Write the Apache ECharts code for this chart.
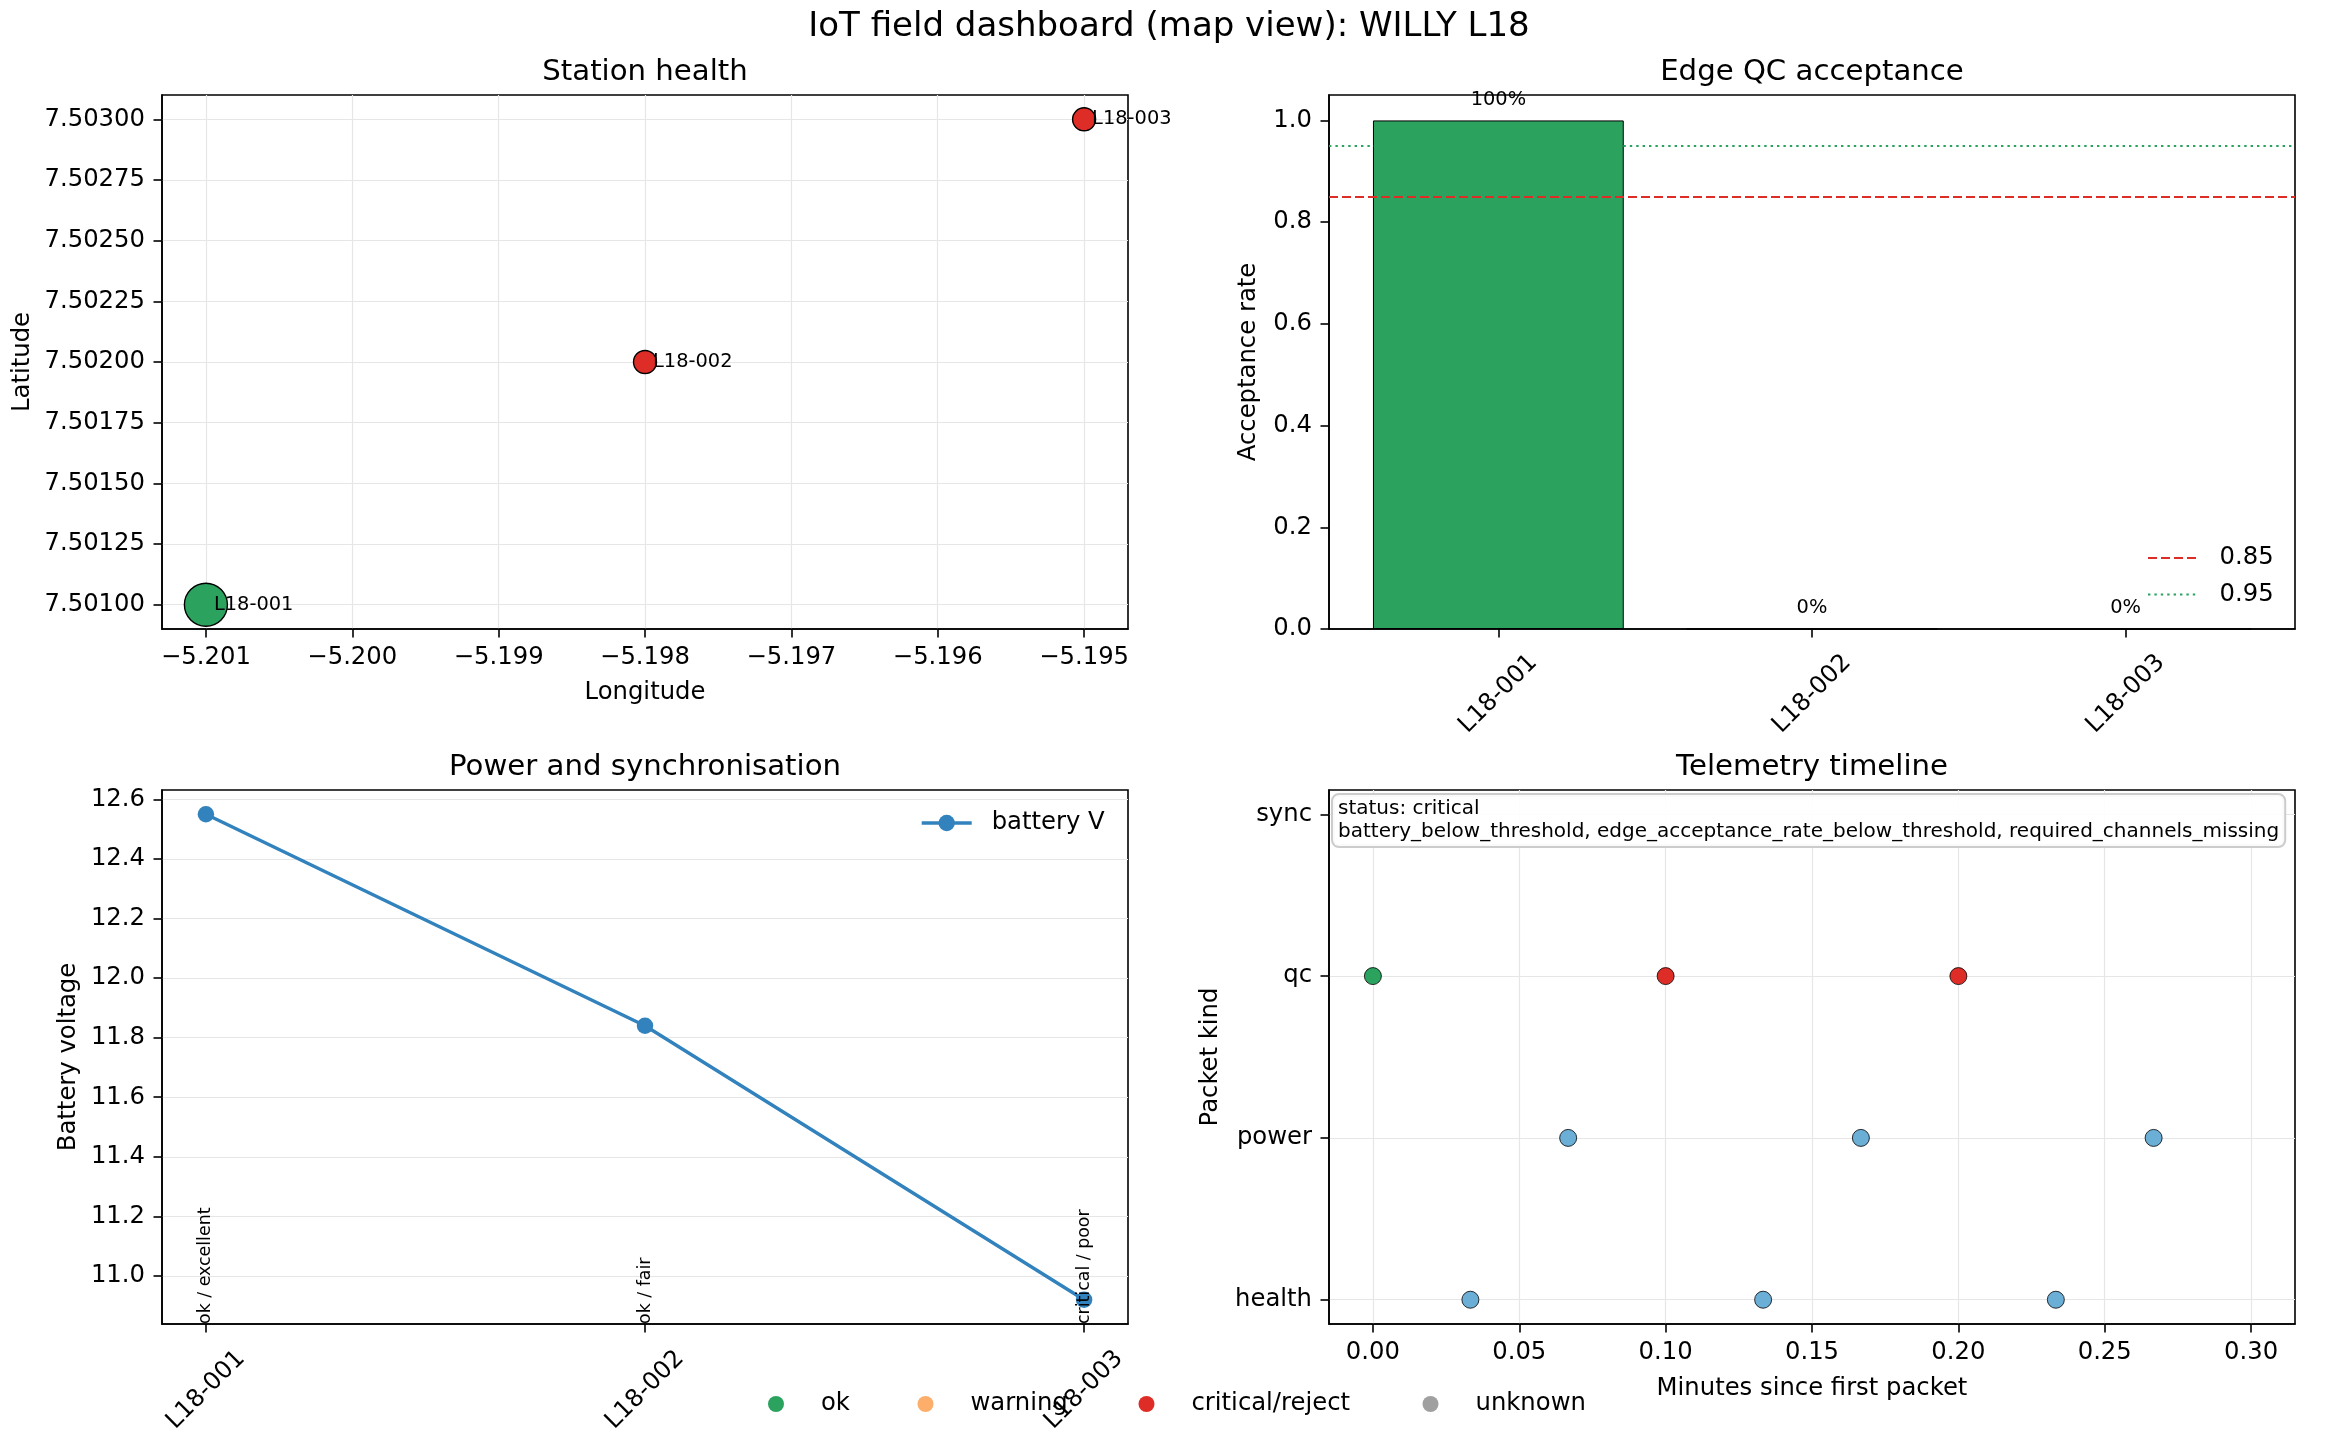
<!DOCTYPE html>
<html>
<head>
<meta charset="utf-8">
<script src="https://cdn.jsdelivr.net/npm/echarts@6/dist/echarts.min.js"></script>
<style>
html,body{margin:0;padding:0;background:#fff;}
#chart{width:2340px;height:1440px;}
</style>
</head>
<body>
<div id="chart"></div>
<script>
// ---------------- data ----------------
const figureTitle = 'IoT field dashboard (map view): WILLY L18';
const panelTitles = ['Station health', 'Edge QC acceptance', 'Power and synchronisation', 'Telemetry timeline'];

const stations = ['L18-001', 'L18-002', 'L18-003'];
const longitudes = [-5.201, -5.198, -5.195];
const latitudes = [7.501, 7.502, 7.503];
const healthStatus = ['ok', 'critical', 'critical'];
const acceptanceRate = [1.0, 0.0, 0.0];
const acceptThresholds = [0.85, 0.95];
const batteryVoltage = [12.55, 11.84, 10.92];
const powerStatus = ['ok', 'ok', 'critical'];
const syncQuality = ['excellent', 'fair', 'poor'];

const packetMinutes = [0.0, 0.0333, 0.0667, 0.1, 0.1333, 0.1667, 0.2, 0.2333, 0.2667];
const packetKinds = ['qc', 'health', 'power', 'qc', 'health', 'power', 'qc', 'health', 'power'];
const packetQc = ['accept', null, null, 'reject', null, null, 'reject', null, null];
const kindOrder = ['health', 'power', 'qc', 'sync'];

const stationStatus = 'critical';
const statusFlags = ['battery_below_threshold', 'edge_acceptance_rate_below_threshold', 'required_channels_missing'];
const legendStatuses = ['ok', 'warning', 'critical/reject', 'unknown'];

// tick labels
const lonTicks = [-5.201, -5.200, -5.199, -5.198, -5.197, -5.196, -5.195];
const latTicks = [7.501, 7.50125, 7.5015, 7.50175, 7.502, 7.50225, 7.5025, 7.50275, 7.503];
const rateTicks = [0.0, 0.2, 0.4, 0.6, 0.8, 1.0];
const voltTicks = [11.0, 11.2, 11.4, 11.6, 11.8, 12.0, 12.2, 12.4, 12.6];
const minuteTicks = [0.0, 0.05, 0.10, 0.15, 0.20, 0.25, 0.30];
const stationTicks = [0, 1, 2];
const kindTicks = [0, 1, 2, 3];

// axis limits (matplotlib-style 5% margins)
const lonLim = [-5.2013, -5.1947];
const latLim = [7.5009, 7.5031];
const rateLim = [0, 1.05];
const barIdxLim = [-0.54, 2.54];
const lineIdxLim = [-0.1, 2.1];
const voltLim = [10.8385, 12.6315];
const minuteLim = [-0.015, 0.315];
const kindLim = [-0.15, 3.15];

// ---------------- styles ----------------
const FF = 'DejaVu Sans';
const F14 = 34, F12 = 29.2, F10 = 24.3, F8 = 19.4, F7 = 17.4;
const C = {
  ok: '#2ca25f', warning: '#fdae6b', critical: '#de2d26', 'critical/reject': '#de2d26',
  unknown: '#a0a0a0', accept: '#2ca25f', reject: '#de2d26', none: '#6baed6', line: '#3182bd'
};
const GRID_COLOR = '#e6e6e6';
const grids = [
  {left: 162, top: 95, width: 966, height: 534},
  {left: 1329, top: 95, width: 966, height: 534},
  {left: 162, top: 790, width: 966, height: 534},
  {left: 1329, top: 790, width: 966, height: 534}
];
// bottom legend item anchors (marker centre x)
const statusLegendX = [776, 925.5, 1146.5, 1430.5];

function valueAxis(o) {
  return {
    type: 'value', gridIndex: o.grid, min: o.lim[0], max: o.lim[1],
    position: o.position,
    axisLine: {show: true, onZero: false, lineStyle: {color: '#000', width: 1.6}},
    axisTick: {show: true, customValues: o.ticks, length: 8.5, lineStyle: {color: '#000', width: 1.6}},
    axisLabel: Object.assign({
      customValues: o.ticks, formatter: o.fmt, margin: 17,
      fontSize: F10, fontFamily: FF, color: '#000'
    }, o.label || {}),
    splitLine: {show: !!o.split, lineStyle: {color: GRID_COLOR, width: 1.2}},
    name: o.name || '', nameLocation: 'middle', nameGap: o.nameGap || 0,
    nameTextStyle: {fontSize: F10, fontFamily: FF, color: '#000'}
  };
}
const minus = s => s.replace('-', '\u2212');

const xAxes = [
  valueAxis({grid: 0, lim: lonLim, ticks: lonTicks, fmt: v => minus(v.toFixed(3)), split: true, name: 'Longitude', nameGap: 52, position: 'bottom'}),
  valueAxis({grid: 1, lim: barIdxLim, ticks: stationTicks, fmt: v => stations[Math.round(v)], position: 'bottom',
    label: {rotate: 45, align: 'center', verticalAlign: 'middle', margin: 65}}),
  valueAxis({grid: 2, lim: lineIdxLim, ticks: stationTicks, fmt: v => stations[Math.round(v)], position: 'bottom',
    label: {rotate: 45, align: 'center', verticalAlign: 'middle', margin: 66}}),
  valueAxis({grid: 3, lim: minuteLim, ticks: minuteTicks, fmt: v => v.toFixed(2), split: true, name: 'Minutes since first packet', nameGap: 53, position: 'bottom'})
];
const yAxes = [
  valueAxis({grid: 0, lim: latLim, ticks: latTicks, fmt: v => v.toFixed(5), split: true, name: 'Latitude', nameGap: 127, position: 'left'}),
  valueAxis({grid: 1, lim: rateLim, ticks: rateTicks, fmt: v => v.toFixed(1), name: 'Acceptance rate', nameGap: 68, position: 'left'}),
  valueAxis({grid: 2, lim: voltLim, ticks: voltTicks, fmt: v => v.toFixed(1), split: true, name: 'Battery voltage', nameGap: 81, position: 'left'}),
  valueAxis({grid: 3, lim: kindLim, ticks: kindTicks, fmt: v => kindOrder[Math.round(v)], split: true, name: 'Packet kind', nameGap: 106, position: 'left'})
];

const series = [];

// Panel 1: station map
series.push({
  type: 'scatter', xAxisIndex: 0, yAxisIndex: 0, clip: false, z: 5,
  data: stations.map((s, i) => ({
    value: [longitudes[i], latitudes[i]],
    symbolSize: 23 + 20 * acceptanceRate[i],
    itemStyle: {color: C[healthStatus[i]], borderColor: '#000', borderWidth: 1.4, opacity: 1}
  })),
  label: {show: true, position: 'inside', align: 'left', verticalAlign: 'middle', offset: [8, 0],
    formatter: p => stations[p.dataIndex], fontSize: F8, fontFamily: FF, color: '#000'}
});

// Panel 2: acceptance bars
series.push({
  type: 'bar', xAxisIndex: 1, yAxisIndex: 1, barWidth: 250.8, z: 3,
  data: stations.map((s, i) => ({
    value: [i, acceptanceRate[i]],
    itemStyle: {color: acceptanceRate[i] >= acceptThresholds[1] ? C.ok : C.critical, borderColor: '#000', borderWidth: 1}
  })),
  label: {show: true, position: 'top', distance: 11, formatter: p => Math.round(p.value[1] * 100) + '%',
    fontSize: F8, fontFamily: FF, color: '#000'}
});
const thrStyles = [
  {color: C.critical, type: [9, 4]},
  {color: C.ok, type: [2.4, 4]}
];
acceptThresholds.forEach((t, k) => {
  series.push({
    type: 'line', name: String(t), xAxisIndex: 1, yAxisIndex: 1, data: [], symbol: 'none',
    color: thrStyles[k].color,
    lineStyle: {color: thrStyles[k].color, width: 2, type: thrStyles[k].type},
    markLine: {silent: true, symbol: ['none', 'none'], animation: false, label: {show: false},
      lineStyle: {color: thrStyles[k].color, width: 2, type: thrStyles[k].type},
      data: [{yAxis: t}]},
    z: 4
  });
});

// Panel 3: battery line
series.push({
  type: 'line', name: 'battery V', xAxisIndex: 2, yAxisIndex: 2, color: C.line,
  data: stations.map((s, i) => [i, batteryVoltage[i]]),
  symbol: 'circle', symbolSize: 16.5, showSymbol: true,
  lineStyle: {color: C.line, width: 3.4}, itemStyle: {color: C.line, opacity: 1}, z: 4
});
series.push({
  type: 'scatter', xAxisIndex: 2, yAxisIndex: 2, clip: false, symbolSize: 1, silent: true, z: 6,
  itemStyle: {color: 'rgba(0,0,0,0)', opacity: 1},
  data: stations.map((s, i) => [i, voltLim[0]]),
  label: {show: true, position: 'inside', rotate: 90, align: 'left', verticalAlign: 'middle',
    formatter: p => powerStatus[p.dataIndex] + ' / ' + syncQuality[p.dataIndex],
    fontSize: F7, fontFamily: FF, color: '#000'}
});

// Panel 4: telemetry timeline
series.push({
  type: 'scatter', xAxisIndex: 3, yAxisIndex: 3, clip: false, symbolSize: 17, z: 5,
  data: packetMinutes.map((m, i) => ({
    value: [m, kindOrder.indexOf(packetKinds[i])],
    itemStyle: {color: packetQc[i] ? C[packetQc[i]] : C.none, borderColor: '#000', borderWidth: 0.8, opacity: 1}
  }))
});

// Legend-only status series
legendStatuses.forEach(s => {
  series.push({type: 'scatter', name: s, xAxisIndex: 0, yAxisIndex: 0, data: [], color: C[s], itemStyle: {color: C[s], opacity: 1}});
});

const legendText = {fontSize: F10, fontFamily: FF, color: '#000'};
const statusLegends = legendStatuses.map((s, i) => ({
  data: [s], left: statusLegendX[i] - 8, top: 1392, orient: 'horizontal', icon: 'circle',
  itemWidth: 80, itemHeight: 16, padding: 0, selectedMode: false,
  itemStyle: {opacity: 1}, textStyle: legendText
}));

const option = {
  animation: false,
  backgroundColor: '#fff',
  textStyle: {fontFamily: FF},
  grid: grids.map(g => Object.assign({show: true, borderColor: '#000', borderWidth: 1.6, backgroundColor: 'transparent', containLabel: false}, g)),
  xAxis: xAxes,
  yAxis: yAxes,
  legend: statusLegends.concat([
    {data: ['battery V'], left: 920, top: 811, orient: 'vertical', itemWidth: 50, itemHeight: 20.5,
      padding: 0, selectedMode: false, lineStyle: {width: 3.4},
      textStyle: Object.assign({padding: [0, 0, 0, 15]}, legendText)},
    {data: acceptThresholds.map(String), left: 2147, top: 546, orient: 'vertical', itemWidth: 50, itemHeight: 14,
      itemGap: 12.4, padding: 0, selectedMode: false, lineStyle: {width: 2}, itemStyle: {opacity: 0},
      textStyle: Object.assign({padding: [0, 0, 0, 16.5]}, legendText)}
  ]),
  graphic: [
    {type: 'text', x: 1169, y: 27.5, z: 100, style: {text: figureTitle, fontSize: F14, fontFamily: FF, fill: '#000', align: 'center', verticalAlign: 'middle'}},
    {type: 'text', x: 645, y: 72, z: 100, style: {text: panelTitles[0], fontSize: F12, fontFamily: FF, fill: '#000', align: 'center', verticalAlign: 'middle'}},
    {type: 'text', x: 1812, y: 72, z: 100, style: {text: panelTitles[1], fontSize: F12, fontFamily: FF, fill: '#000', align: 'center', verticalAlign: 'middle'}},
    {type: 'text', x: 645, y: 767, z: 100, style: {text: panelTitles[2], fontSize: F12, fontFamily: FF, fill: '#000', align: 'center', verticalAlign: 'middle'}},
    {type: 'text', x: 1812, y: 767, z: 100, style: {text: panelTitles[3], fontSize: F12, fontFamily: FF, fill: '#000', align: 'center', verticalAlign: 'middle'}},
    {type: 'text', x: 1333, y: 795, z: 100, style: {
      text: 'status: ' + stationStatus + '\n' + statusFlags.join(', '),
      fontSize: 20, lineHeight: 22.5, fontFamily: FF, fill: '#000', align: 'left', verticalAlign: 'top',
      backgroundColor: 'rgba(255,255,255,0.9)', borderColor: '#cccccc', borderWidth: 2, borderRadius: 6,
      padding: [3, 5, 3, 5]}}
  ],
  series: series
};

const chart = echarts.init(document.getElementById('chart'), null, {renderer: 'canvas', width: 2340, height: 1440});
chart.setOption(option);
</script>
</body>
</html>
